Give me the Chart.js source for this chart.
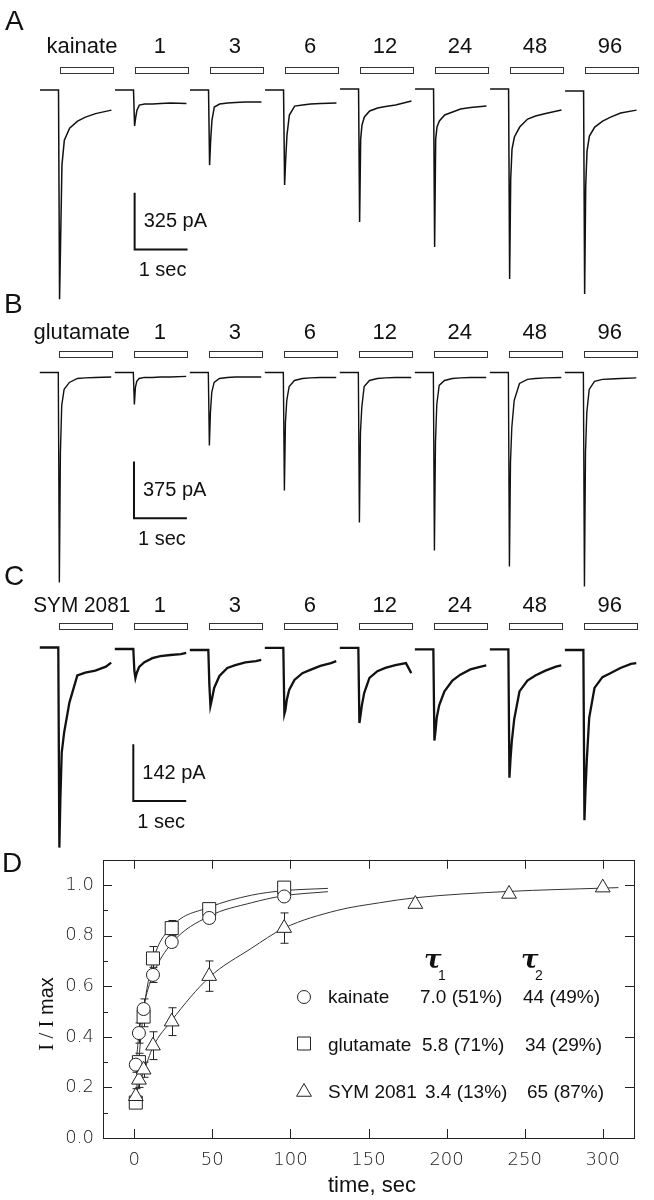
<!DOCTYPE html>
<html>
<head>
<meta charset="utf-8">
<script src="https://cdn.jsdelivr.net/npm/chart.js@4.4.1/dist/chart.umd.min.js"></script>
<style>
  body { margin: 0; background: #fff; width: 654px; height: 1200px; position: relative; overflow: hidden; }
  canvas { position: absolute; left: 0; }
</style>
</head>
<body>
<canvas id="panelA" width="654" height="300" style="top:0px"></canvas>
<canvas id="panelB" width="654" height="305" style="top:285px"></canvas>
<canvas id="panelC" width="654" height="300" style="top:555px"></canvas>
<canvas id="panelD" width="654" height="360" style="top:840px"></canvas>
<script>
// Traces: time in s from agonist onset, current in pA
const sweepLabels = ['1', '3', '6', '12', '24', '48', '96'];
const stimDuration = 1.0;
const sweepInterval = 1.418;
const pxPerSec = 52.9;

const traceTimes = [-0.35, 0, 0.02, 0.04, 0.065, 0.11, 0.21, 0.36, 0.51, 0.7, 1.0];
const traceTimesC = [-0.35, 0, 0.02, 0.04, 0.065, 0.11, 0.21, 0.36, 0.51, 0.7, 0.9, 1.0];

const kainateTraces = [
  [0, 0, -1198, -860, -430, -287, -218, -178, -155, -135, -115],
  [0, 0, -206, -160, -115, -86, -80, -80, -77, -74, -77],
  [0, 0, -430, -287, -172, -97, -80, -74, -72, -69, -69],
  [0, 0, -544, -401, -258, -143, -92, -86, -80, -77, -74],
  [0, 0, -762, -287, -206, -160, -126, -109, -100, -92, -69],
  [0, 0, -905, -287, -218, -183, -149, -132, -115, -106, -97],
  [0, 0, -1089, -516, -344, -275, -218, -172, -155, -140, -120],
  [0, 0, -1163, -544, -344, -258, -206, -172, -149, -126, -109]
];
const kainateBaseline = [-3, -3, -3, -3, 3, 3, 3, -9];

const glutamateTraces = [
  [0, 0, -1388, -529, -218, -112, -66, -40, -36, -33, -30],
  [0, 0, -212, -99, -59, -40, -33, -33, -30, -30, -26],
  [0, 0, -483, -264, -132, -66, -40, -33, -30, -30, -30],
  [0, 0, -780, -330, -185, -93, -53, -40, -36, -33, -33],
  [0, 0, -992, -397, -231, -93, -53, -40, -36, -33, -33],
  [0, 0, -1177, -463, -212, -86, -53, -40, -36, -33, -33],
  [0, 0, -1282, -595, -364, -185, -73, -46, -40, -36, -33],
  [0, 0, -1415, -529, -264, -112, -59, -46, -43, -40, -36]
];
const glutamateBaseline = [0, 0, 0, 0, 0, 0, 0, 0];

const symTraces = [
  [0, 0, -501, -376, -263, -213, -138, -70, -63, -58, -48, -38],
  [0, 0, -55, -73, -60, -45, -33, -23, -18, -15, -13, -10],
  [0, 0, -88, -140, -125, -95, -65, -45, -38, -31, -28, -25],
  [0, 0, -165, -155, -130, -105, -80, -63, -55, -45, -38, -33],
  [0, 0, -188, -170, -145, -113, -75, -58, -50, -43, -38, -63],
  [0, 0, -228, -205, -170, -140, -105, -78, -63, -50, -43, -40],
  [0, 0, -321, -275, -230, -175, -105, -78, -65, -53, -43, -40],
  [0, 0, -426, -351, -275, -170, -95, -68, -58, -45, -35, -33]
];
const symBaseline = [2.5, -1.3, -3.8, 1.3, 1.3, -2.5, -2.5, -3.8];

// Recovery plot
const timeSec = [1, 3, 6, 12, 24, 48, 96];
const kainateMean = [0.29, 0.415, 0.51, 0.645, 0.775, 0.87, 0.955];
const kainateSem = [0.03, 0.04, 0.04, 0.03, 0.02, 0.02, 0.02];
const glutamateMean = [0.14, 0.30, 0.48, 0.71, 0.83, 0.905, 0.99];
const glutamateSem = [0.02, 0.035, 0.04, 0.047, 0.03, 0.02, 0.02];
const symTime = [1, 3, 6, 12, 24, 48, 96, 180, 240, 300];
const symMean = [0.165, 0.23, 0.27, 0.365, 0.46, 0.64, 0.83, 0.925, 0.965, 0.99];
const symSem = [0.03, 0.03, 0.03, 0.055, 0.055, 0.06, 0.06, 0, 0, 0];

const fitTime = [1, 3, 6, 12, 24, 48, 75, 96, 124];
const kainateFit = [0.28, 0.41, 0.52, 0.645, 0.77, 0.877, 0.93, 0.958, 0.974];
const glutamateFit = [0.14, 0.31, 0.50, 0.70, 0.835, 0.912, 0.96, 0.978, 0.987];
const symFitTime = [1, 3, 6, 12, 24, 48, 75, 96, 130, 157, 180, 240, 300, 310];
const symFit = [0.17, 0.21, 0.26, 0.36, 0.465, 0.635, 0.75, 0.83, 0.90, 0.93, 0.95, 0.975, 0.988, 0.99];

const xTickValues = [0, 50, 100, 150, 200, 250, 300];
const yTickValues = [0, 0.1, 0.2, 0.3, 0.4, 0.5, 0.6, 0.7, 0.8, 0.9, 1.0];

const legendNames = ['kainate', 'glutamate', 'SYM 2081'];
const tau1Text = ['7.0 (51%)', '5.8 (71%)', '3.4 (13%)'];
const tau2Text = ['44 (49%)', '34 (29%)', '65 (87%)'];

const SANS = '"Liberation Sans", Arial, Helvetica, sans-serif';
const INK = '#111';

const tracePanelDecor = {
  id: 'tracePanelDecor',
  afterDatasetsDraw(chart, args, o) {
    const { ctx } = chart;
    const xs = chart.scales.x, ys = chart.scales.y;
    ctx.save();
    ctx.fillStyle = INK;
    ctx.font = '28px ' + SANS;
    ctx.fillText(o.letter, o.letterX, o.letterY);

    ctx.font = '22px ' + SANS;
    ctx.textAlign = 'center';
    const labels = [o.firstLabel].concat(sweepLabels);
    labels.forEach((lab, i) => {
      const x0 = xs.getPixelForValue(i * sweepInterval);
      const x1 = xs.getPixelForValue(i * sweepInterval + stimDuration);
      if (i === 0) ctx.fillText(lab, (x0 + x1) / 2 - 3, o.labelY, o.firstWidth);
      else ctx.fillText(lab, (x0 + x1) / 2, o.labelY);
      ctx.fillStyle = '#fff';
      ctx.fillRect(Math.round(x0) + 1, o.barTop, Math.round(x1 - x0), o.barH);
      ctx.strokeStyle = '#333';
      ctx.lineWidth = 1;
      ctx.strokeRect(Math.round(x0) + 1.5, o.barTop + 0.5, Math.round(x1 - x0), o.barH);
      ctx.fillStyle = INK;
    });

    // scale bar
    const sx = xs.getPixelForValue(o.scaleAt[0]);
    const sx2 = xs.getPixelForValue(o.scaleAt[0] + 1);
    const sy = ys.getPixelForValue(o.scaleAt[1]);
    const sy2 = ys.getPixelForValue(o.scaleAt[1] + o.scalePA);
    ctx.strokeStyle = INK;
    ctx.lineWidth = 2;
    ctx.beginPath();
    ctx.moveTo(sx, sy2);
    ctx.lineTo(sx, sy);
    ctx.lineTo(sx2, sy);
    ctx.stroke();
    ctx.textAlign = 'left';
    ctx.font = '20px ' + SANS;
    ctx.fillText(o.scalePA + ' pA', sx + 9, sy - 22);
    ctx.fillText('1 sec', sx + 4, sy + 27);
    ctx.restore();
  }
};

function traceChart(id, times, traces, baseline, width, yMin, yMax, xMin, decor) {
  const datasets = traces.map((vals, i) => ({
    data: times.map((t, j) => ({ x: i * sweepInterval + t, y: vals[j] + baseline[i] })),
    borderColor: INK,
    borderWidth: width,
    pointRadius: 0,
    tension: 0,
    fill: false
  }));
  return new Chart(document.getElementById(id), {
    type: 'line',
    data: { datasets },
    options: {
      responsive: false,
      animation: false,
      events: [],
      layout: { padding: 0 },
      scales: {
        x: { type: 'linear', display: false, min: xMin, max: xMin + 654 / pxPerSec },
        y: { type: 'linear', display: false, min: yMin, max: yMax }
      },
      plugins: { legend: { display: false }, tooltip: { enabled: false }, tracePanelDecor: decor }
    },
    plugins: [tracePanelDecor]
  });
}

traceChart('panelA', traceTimes, kainateTraces, kainateBaseline, 1.5, -1206, 513, -1.106, {
  letter: 'A', letterX: 5, letterY: 30, firstLabel: 'kainate', firstWidth: 74,
  labelY: 53, barTop: 67, barH: 6, scaleAt: [1.439, -916], scalePA: 325
});
traceChart('panelB', traceTimes, glutamateTraces, glutamateBaseline, 1.4, -1438, 578, -1.102, {
  letter: 'B', letterX: 4, letterY: 28, firstLabel: 'glutamate', firstWidth: 98,
  labelY: 53.5, barTop: 66, barH: 6, scaleAt: [1.431, -964], scalePA: 375
});
traceChart('panelC', traceTimesC, symTraces, symBaseline, 2.3, -517, 234, -1.102, {
  letter: 'C', letterX: 4, letterY: 30, firstLabel: 'SYM 2081', firstWidth: 97,
  labelY: 57, barTop: 68, barH: 6, scaleAt: [1.418, -382], scalePA: 142
});

// ---- panel D ----
const errorBars = {
  id: 'errorBars',
  beforeDatasetsDraw(chart) {
    const { ctx, scales: { x, y } } = chart;
    ctx.save();
    ctx.strokeStyle = '#222';
    ctx.lineWidth = 1;
    chart.data.datasets.forEach(ds => {
      if (!ds.sem) return;
      ds.data.forEach((p, i) => {
        const e = ds.sem[i];
        if (!e) return;
        const px = Math.round(x.getPixelForValue(p.x)) + 0.5;
        const top = y.getPixelForValue(p.y + e), bot = y.getPixelForValue(p.y - e);
        ctx.beginPath();
        ctx.moveTo(px, top); ctx.lineTo(px, bot);
        ctx.moveTo(px - 4, top); ctx.lineTo(px + 4, top);
        ctx.moveTo(px - 4, bot); ctx.lineTo(px + 4, bot);
        ctx.stroke();
      });
    });
    ctx.restore();
  }
};

function marker(ctx, style, x, y) {
  ctx.beginPath();
  if (style === 'circle') ctx.arc(x, y, 6.5, 0, Math.PI * 2);
  else if (style === 'rect') ctx.rect(x - 6.5, y - 6.5, 13, 13);
  else {
    ctx.moveTo(x, y - 8.5);
    ctx.lineTo(x + 7.4, y + 4.25);
    ctx.lineTo(x - 7.4, y + 4.25);
    ctx.closePath();
  }
  ctx.fillStyle = '#fff';
  ctx.fill();
  ctx.stroke();
}

const frameAndText = {
  id: 'frameAndText',
  afterDatasetsDraw(chart) {
    const { ctx, chartArea: a, scales: { x, y } } = chart;
    ctx.save();
    ctx.strokeStyle = '#222';
    ctx.lineWidth = 1;
    ctx.strokeRect(Math.round(a.left) + 0.5, Math.round(a.top) + 0.5, Math.round(a.right - a.left), Math.round(a.bottom - a.top));
    ctx.beginPath();
    x.ticks.forEach(t => {
      const px = Math.round(x.getPixelForValue(t.value)) + 0.5;
      ctx.moveTo(px, a.top); ctx.lineTo(px, a.top + 9);
      ctx.moveTo(px, a.bottom); ctx.lineTo(px, a.bottom - 9);
    });
    y.ticks.forEach(t => {
      const k = Math.round(t.value * 10);
      if (k < 1) return;
      const py = Math.round(y.getPixelForValue(t.value)) + 0.5;
      const major = k % 2 === 0;
      ctx.moveTo(a.left, py); ctx.lineTo(a.left + (major ? 9 : 5), py);
      if (major) { ctx.moveTo(a.right, py); ctx.lineTo(a.right - 9, py); }
    });
    ctx.stroke();

    ctx.fillStyle = INK;
    ctx.font = '28px ' + SANS;
    ctx.fillText('D', 2, 32);

    ctx.font = '22px ' + SANS;
    ctx.textAlign = 'center';
    ctx.fillText('time, sec', 372, 352);

    // y title
    ctx.save();
    ctx.translate(53, 174);
    ctx.rotate(-Math.PI / 2);
    ctx.textAlign = 'left';
    ctx.font = '21px "Liberation Serif", "Times New Roman", serif';
    const w1 = ctx.measureText('I / I').width;
    ctx.font = '20px ' + SANS;
    const w2 = ctx.measureText(' max').width;
    ctx.font = '21px "Liberation Serif", "Times New Roman", serif';
    ctx.fillText('I / I', -(w1 + w2) / 2, 0);
    ctx.font = '20px ' + SANS;
    ctx.fillText(' max', -(w1 + w2) / 2 + w1, 0);
    ctx.restore();

    // legend with time constants
    ctx.textAlign = 'left';
    ctx.font = 'italic bold 26px "DejaVu Serif", "Liberation Serif", serif';
    ctx.fillText('\u03C4', 424, 128);
    ctx.fillText('\u03C4', 521, 128);
    ctx.font = '14px ' + SANS;
    ctx.fillText('1', 438, 140);
    ctx.fillText('2', 535, 140);

    const styles = ['circle', 'rect', 'triangle'];
    const symY = [157, 203.5, 252];
    const baseY = [163, 211, 258];
    const t1x = [420, 422, 425], t2x = [523, 525, 527];
    ctx.strokeStyle = '#222';
    legendNames.forEach((n, i) => {
      marker(ctx, styles[i], 304, symY[i]);
      ctx.fillStyle = INK;
      ctx.font = '19px ' + SANS;
      ctx.fillText(n, 328, baseY[i]);
      ctx.fillText(tau1Text[i], t1x[i], baseY[i]);
      ctx.fillText(tau2Text[i], t2x[i], baseY[i]);
    });
    ctx.restore();
  }
};

const tickFont = { family: '"DejaVu Sans", Verdana, sans-serif', size: 18, weight: 200 };
const pts = (xs, ys) => xs.map((t, i) => ({ x: t, y: ys[i] }));
const markerStyle = { showLine: false, pointBackgroundColor: '#fff', pointBorderColor: '#222', pointBorderWidth: 1, order: 0 };
const fitStyle = { showLine: true, borderColor: '#333', borderWidth: 1, pointRadius: 0, cubicInterpolationMode: 'monotone', order: 1 };

new Chart(document.getElementById('panelD'), {
  type: 'scatter',
  data: {
    datasets: [
      Object.assign({ label: 'SYM 2081', data: pts(symTime, symMean), sem: symSem, pointStyle: 'triangle', pointRadius: 8.5 }, markerStyle),
      Object.assign({ label: 'kainate', data: pts(timeSec, kainateMean), sem: kainateSem, pointStyle: 'circle', pointRadius: 6.5 }, markerStyle),
      Object.assign({ label: 'glutamate', data: pts(timeSec, glutamateMean), sem: glutamateSem, pointStyle: 'rect', pointRadius: 9.2 }, markerStyle),
      Object.assign({ data: pts(fitTime, kainateFit) }, fitStyle),
      Object.assign({ data: pts(fitTime, glutamateFit) }, fitStyle),
      Object.assign({ data: pts(symFitTime, symFit) }, fitStyle)
    ]
  },
  options: {
    responsive: false,
    animation: false,
    events: [],
    layout: { padding: { left: 0, right: 20, top: 14, bottom: 0 } },
    scales: {
      x: {
        type: 'linear', min: -20, max: 320,
        grid: { display: false, drawTicks: false }, border: { display: false },
        afterBuildTicks: s => { s.ticks = xTickValues.map(v => ({ value: v })); },
        afterFit: s => { s.height = 62; },
        ticks: {
          autoSkip: false, maxRotation: 0, padding: 12, color: '#222', font: tickFont,
          callback: v => String(v)
        }
      },
      y: {
        type: 'linear', min: 0, max: 1.1,
        grid: { display: false, drawTicks: false }, border: { display: false },
        afterBuildTicks: s => { s.ticks = yTickValues.map(v => ({ value: v })); },
        afterFit: s => { s.width = 103; },
        ticks: {
          autoSkip: false, padding: 9, color: '#222', font: tickFont,
          callback: v => { const k = Math.round(v * 10); return k % 2 === 0 ? (k / 10).toFixed(1) : ''; }
        }
      }
    },
    plugins: { legend: { display: false }, tooltip: { enabled: false } }
  },
  plugins: [errorBars, frameAndText]
});
</script>
</body>
</html>
